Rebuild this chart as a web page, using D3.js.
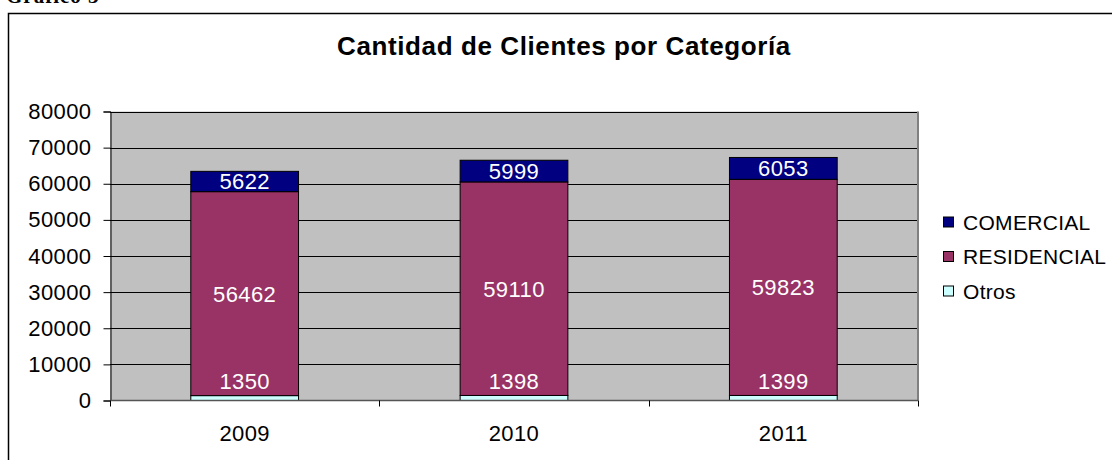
<!DOCTYPE html>
<html>
<head>
<meta charset="utf-8">
<script src="https://d3js.org/d3.v7.min.js"></script>
<style>
body { margin: 0; background: #fff; }
svg text { font-family: Arial, "Liberation Sans", sans-serif; }
.tick-lbl { font-size: 22px; letter-spacing: 0.4px; fill: #000; }
.bar-lbl { font-size: 22px; letter-spacing: 0.4px; fill: #fff; }
.leg-lbl { font-size: 21px; letter-spacing: 0.3px; fill: #000; }
</style>
</head>
<body>
<svg id="chart" width="1112" height="460"></svg>
<script>
// data
var years = ["2009", "2010", "2011"];
var otros = [1350, 1398, 1399];
var residencial = [56462, 59110, 59823];
var comercial = [5622, 5999, 6053];
var seriesNames = ["Otros", "RESIDENCIAL", "COMERCIAL"]; // bottom to top
var seriesColors = ["#CCFFFF", "#993366", "#000080"];
var yTicks = [0, 10000, 20000, 30000, 40000, 50000, 60000, 70000, 80000];

var svg = d3.select("#chart");

// outer frame, runs off the right and bottom of the picture
svg.append("rect")
  .attr("x", 8.5).attr("y", 13.5)
  .attr("width", 1200).attr("height", 600)
  .attr("fill", "none").attr("stroke", "#000").attr("stroke-width", 1.5);

// "Gráfico 3" caption, mostly cut off at the top (same as the original)
svg.append("text")
  .attr("x", 6).attr("y", 3)
  .style("font-family", "'Liberation Serif', 'DejaVu Serif', serif")
  .style("font-weight", "bold").style("font-size", "21px")
  .style("letter-spacing", "1px")
  .text("Gráfico 3");

svg.append("text")
  .attr("x", 564).attr("y", 55)
  .attr("text-anchor", "middle")
  .style("font-weight", "bold").style("font-size", "26px")
  .style("letter-spacing", "0.6px")
  .text("Cantidad de Clientes por Categoría");

var plotL = 110, plotR = 918, plotT = 111.5, plotB = 400.5;

var x = d3.scaleBand()
  .domain(years)
  .range([plotL, plotR])
  .paddingInner(0.6)
  .paddingOuter(0.3);

var y = d3.scaleLinear()
  .domain([0, 80000])
  .range([plotB, plotT]);

// plot background
svg.append("rect")
  .attr("x", plotL).attr("y", plotT)
  .attr("width", plotR - plotL).attr("height", plotB - plotT)
  .attr("fill", "#C0C0C0");

// gridlines
svg.append("g").selectAll("line")
  .data(yTicks.slice(1))
  .enter().append("line")
  .attr("x1", plotL).attr("x2", plotR)
  .attr("y1", function(d) { return Math.round(y(d)) + 0.5; })
  .attr("y2", function(d) { return Math.round(y(d)) + 0.5; })
  .attr("stroke", "#000").attr("stroke-width", 1);

// right edge of plot area
svg.append("line")
  .attr("x1", plotR).attr("x2", plotR)
  .attr("y1", plotT).attr("y2", plotB)
  .attr("stroke", "#808080").attr("stroke-width", 2);

// y axis
var yAxis = d3.axisLeft(y)
  .tickValues(yTicks)
  .tickSize(7)
  .tickPadding(12)
  .tickFormat(d3.format("d"));

var gy = svg.append("g")
  .attr("transform", "translate(" + (plotL + 0.5) + ",0)")
  .call(yAxis);
gy.select(".domain").attr("stroke", "#000");
gy.selectAll(".tick line").attr("stroke", "#000");
gy.selectAll(".tick text")
  .attr("class", "tick-lbl")
  .attr("font-size", null).attr("font-family", null);

// stacked bars
var table = years.map(function(yr, i) {
  return { year: yr, Otros: otros[i], RESIDENCIAL: residencial[i], COMERCIAL: comercial[i] };
});
var stacked = d3.stack().keys(seriesNames)(table);

var layer = svg.append("g").selectAll("g")
  .data(stacked)
  .enter().append("g")
  .attr("fill", function(d, i) { return seriesColors[i]; });

layer.selectAll("rect")
  .data(function(d) { return d; })
  .enter().append("rect")
  .attr("x", function(d) { return x(d.data.year); })
  .attr("y", function(d) { return y(d[1]); })
  .attr("width", x.bandwidth())
  .attr("height", function(d) { return y(d[0]) - y(d[1]); })
  .attr("stroke", "#000").attr("stroke-width", 1);

// x axis line + tick marks at category boundaries
svg.append("line")
  .attr("x1", plotL).attr("x2", plotR)
  .attr("y1", plotB).attr("y2", plotB)
  .attr("stroke", "#555").attr("stroke-width", 1.5);

var bounds = d3.range(years.length + 1).map(function(i) { return plotL + i * x.step(); });
svg.append("g").selectAll("line")
  .data(bounds)
  .enter().append("line")
  .attr("x1", function(d) { return Math.round(d) + 0.5; })
  .attr("x2", function(d) { return Math.round(d) + 0.5; })
  .attr("y1", plotB).attr("y2", plotB + 6)
  .attr("stroke", "#000");

svg.append("g").selectAll("text")
  .data(years)
  .enter().append("text")
  .attr("class", "tick-lbl")
  .attr("x", function(d) { return x(d) + x.bandwidth() / 2; })
  .attr("y", 441)
  .attr("text-anchor", "middle")
  .text(function(d) { return d; });

// value labels go in their own group so later layers don't cover them.
// the tiny Otros one gets pushed up off the axis
var labels = svg.append("g").selectAll("g")
  .data(stacked)
  .enter().append("g");

labels.selectAll("text")
  .data(function(d) { return d; })
  .enter().append("text")
  .attr("class", "bar-lbl")
  .attr("x", function(d) { return x(d.data.year) + x.bandwidth() / 2; })
  .attr("y", function(d) {
    var c = (y(d[0]) + y(d[1])) / 2;
    return Math.min(c, plotB - 19);
  })
  .attr("dy", "0.36em")
  .attr("text-anchor", "middle")
  .text(function(d) { return d[1] - d[0]; });

// legend, top entry is COMERCIAL
var legendOrder = [2, 1, 0];
var leg = svg.append("g").selectAll("g")
  .data(legendOrder)
  .enter().append("g")
  .attr("transform", function(d, i) { return "translate(943," + (222 + i * 34.5) + ")"; });

leg.append("rect")
  .attr("x", 0.5).attr("y", -5)
  .attr("width", 10).attr("height", 10)
  .attr("fill", function(d) { return seriesColors[d]; })
  .attr("stroke", "#000").attr("stroke-width", 1);

leg.append("text")
  .attr("class", "leg-lbl")
  .attr("x", 20).attr("y", 0)
  .attr("dy", "0.36em")
  .text(function(d) { return seriesNames[d]; });
</script>
</body>
</html>
